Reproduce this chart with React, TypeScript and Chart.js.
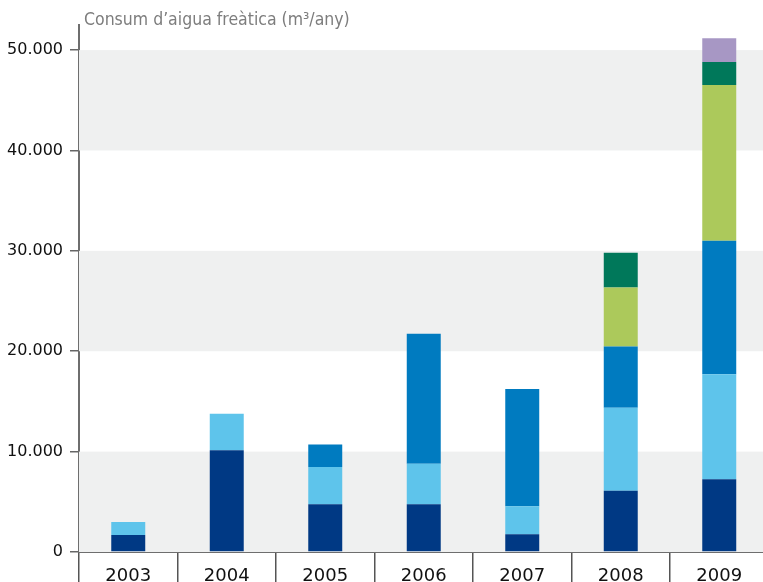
import React, { useEffect, useRef } from "react";
import { Chart, registerables } from "chart.js";

Chart.register(...registerables);

const years = ["2003", "2004", "2005", "2006", "2007", "2008", "2009"];
const navy = [1690, 10130, 4760, 4760, 1760, 6100, 7240];
const lightBlue = [1310, 3640, 3720, 4030, 2790, 8260, 10460];
const midBlue = [0, 0, 2240, 12950, 11680, 6100, 13300];
const lightGreen = [0, 0, 0, 0, 0, 5900, 15520];
const darkGreen = [0, 0, 0, 0, 0, 3440, 2290];
const purple = [0, 0, 0, 0, 0, 0, 2380];
const yTicks = [0, 10000, 20000, 30000, 40000, 50000];
const bands = [
  [0, 10000],
  [20000, 30000],
  [40000, 50000],
];
const titleText = "Consum d\u2019aigua freàtica (m³/any)";

const bandsPlugin = {
  id: "bands",
  beforeDatasetsDraw(chart: any) {
    const { ctx, chartArea, scales } = chart;
    const y = scales.y;
    ctx.save();
    ctx.fillStyle = "#eff0f0";
    for (const [a, b] of bands) {
      const y1 = y.getPixelForValue(b);
      const y0 = y.getPixelForValue(a);
      ctx.fillRect(chartArea.left, y1, chartArea.right - chartArea.left, y0 - y1);
    }
    ctx.restore();
  },
};

const titlePlugin = {
  id: "topTitle",
  afterDraw(chart: any) {
    const { ctx, chartArea } = chart;
    ctx.save();
    ctx.fillStyle = "#7d7d7d";
    ctx.font = "17.5px 'DejaVu Sans Condensed', 'DejaVu Sans'";
    ctx.textBaseline = "middle";
    ctx.textAlign = "left";
    ctx.fillText(titleText, chartArea.left + 5, chartArea.top - 5);
    ctx.restore();
  },
};

export default function App() {
  const ref = useRef<HTMLCanvasElement>(null);
  useEffect(() => {
    if (!ref.current) return;
    const mk = (label: string, data: number[], color: string) => ({
      label,
      data,
      backgroundColor: color,
      borderWidth: 0,
      barPercentage: 0.345,
      categoryPercentage: 1,
    });
    const chart = new Chart(ref.current, {
      type: "bar",
      data: {
        labels: years,
        datasets: [
          mk("a", navy, "#003984"),
          mk("b", lightBlue, "#5ec4eb"),
          mk("c", midBlue, "#007bc0"),
          mk("d", lightGreen, "#acc95b"),
          mk("e", darkGreen, "#00785a"),
          mk("f", purple, "#a797c4"),
        ],
      },
      options: {
        animation: false,
        responsive: false,
        layout: { padding: { top: 25, right: 6.5, left: 0, bottom: 0 } },
        plugins: {
          legend: { display: false },
          tooltip: { enabled: false },
          title: { display: false },
        },
        scales: {
          x: {
            stacked: true,
            offset: true,
            afterFit: (s: any) => {
              s.height = 38;
            },
            grid: {
              offset: true,
              drawOnChartArea: false,
              drawTicks: true,
              tickLength: 30,
              color: "#555",
              lineWidth: 1.5,
            },
            border: { display: true, color: "#6e6e6e", width: 2 },
            ticks: {
              padding: -16,
              color: "#111",
              font: { family: "'DejaVu Sans'", size: 18 },
              maxRotation: 0,
            },
          },
          y: {
            stacked: true,
            min: 0,
            max: 52500,
            afterFit: (s: any) => {
              s.width = 79;
            },
            afterBuildTicks: (s: any) => {
              s.ticks = yTicks.map((v) => ({ value: v }));
            },
            grid: {
              drawOnChartArea: false,
              drawTicks: true,
              tickLength: 9,
              color: "#666",
              lineWidth: 1.5,
            },
            border: { display: true, color: "#6e6e6e", width: 2 },
            ticks: {
              padding: 7,
              color: "#111",
              font: { family: "'DejaVu Sans'", size: 16 },
              callback: (v: any) => Number(v).toLocaleString("de-DE"),
            },
          },
        },
      },
      plugins: [bandsPlugin, titlePlugin],
    });
    return () => chart.destroy();
  }, []);
  return (
    <div
      style={{
        position: "fixed",
        left: 0,
        top: 0,
        width: 763,
        height: 582,
        overflow: "hidden",
        background: "#fff",
      }}
    >
      <canvas ref={ref} width={775} height={590} style={{ width: 775, height: 590, display: "block" }} />
    </div>
  );
}
